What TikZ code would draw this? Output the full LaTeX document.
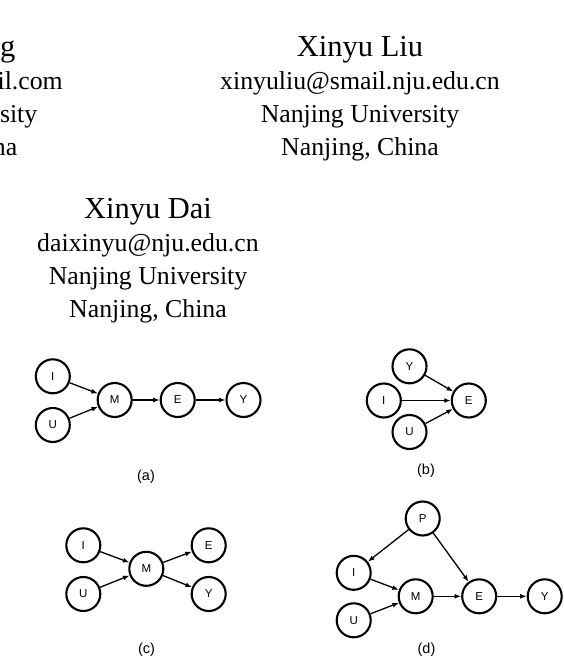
\documentclass[tikz,border=0pt]{standalone}
\usepackage{fontspec}
\setmainfont{Liberation Serif}
\newfontfamily\graphfont{Liberation Sans}
\usetikzlibrary{arrows.meta}
\tikzset{
  v/.style={circle,draw=black,line width=2.1pt,minimum size=34pt,inner sep=0pt,font=\graphfont\fontsize{11.5}{11.5}\selectfont},
  arc/.style={draw=black,line width=1.3pt,-{Latex[length=6.5pt,width=5pt]}},
  sublab/.style={font=\graphfont\fontsize{14.5}{14.5}\selectfont,inner sep=0pt},
}
\tikzset{who/.style={anchor=base,inner sep=0pt,font=\fontsize{30.5}{34}\selectfont}, info/.style={anchor=base,inner sep=0pt,font=\fontsize{25.8}{30}\selectfont}}

\begin{document}
\begin{tikzpicture}[x=1pt,y=-1pt]
\useasboundingbox (0,0) rectangle (564,658);
% authors
\node[who,anchor=base east](f1) at (15.5,57){g};\node[info,anchor=base east](f2) at (63,90){il.com};
\node[info,anchor=base east](f3) at (37.5,122){sity};\node[info,anchor=base east](f4) at (17.5,155){na};
\node[who](liu) at (360,57){Xinyu Liu};\node[info](liu1) at (360,90){xinyuliu@smail.nju.edu.cn};
\node[info](liu2) at (360,122){Nanjing University};\node[info](liu3) at (360,155){Nanjing, China};
\node[who](dai) at (148,218){Xinyu Dai};\node[info](dai1) at (148,251){daixinyu@nju.edu.cn};
\node[info](dai2) at (148,284){Nanjing University};\node[info](dai3) at (148,317){Nanjing, China};
% (a)
\node[v](aI) at (52.8,376.3){I};\node[v](aU) at (52.8,425){U};\node[v](aM) at (114.7,400){M};
\node[v](aE) at (177.7,400){E};\node[v](aY) at (243.5,400){Y};\node[sublab](ca) at (146,477){(a)};
\draw[arc] (aI)--(aM);\draw[arc] (aU)--(aM);\draw[arc] (aM)--(aE);\draw[arc] (aE)--(aY);
% (b)
\node[v](bY) at (409.5,366.3){Y};\node[v](bI) at (383.8,400.5){I};\node[v](bU) at (409.5,432){U};
\node[v](bE) at (468.8,400.5){E};\node[sublab](cb) at (426,471){(b)};
\draw[arc] (bY)--(bE);\draw[arc] (bI)--(bE);\draw[arc] (bU)--(bE);
% (c)
\node[v](cI) at (83.3,545.3){I};\node[v](cU) at (83.3,594){U};\node[v](cM) at (146.3,568.8){M};
\node[v](cE) at (208.7,545.3){E};\node[v](cY) at (208.7,594){Y};\node[sublab](cc) at (146.5,650){(c)};
\draw[arc] (cI)--(cM);\draw[arc] (cU)--(cM);\draw[arc] (cM)--(cE);\draw[arc] (cM)--(cY);
% (d)
\node[v](dP) at (422.7,518.5){P};\node[v](dI) at (353.7,572.8){I};\node[v](dU) at (353.7,620.3){U};
\node[v](dM) at (415.7,596.3){M};\node[v](dE) at (479.2,596.3){E};\node[v](dY) at (544.7,596.3){Y};
\node[sublab](cd) at (426.5,650){(d)};
\draw[arc] (dP)--(dI);\draw[arc] (dP)--(dE);\draw[arc] (dI)--(dM);\draw[arc] (dU)--(dM);
\draw[arc] (dM)--(dE);\draw[arc] (dE)--(dY);
\end{tikzpicture}
\end{document}
